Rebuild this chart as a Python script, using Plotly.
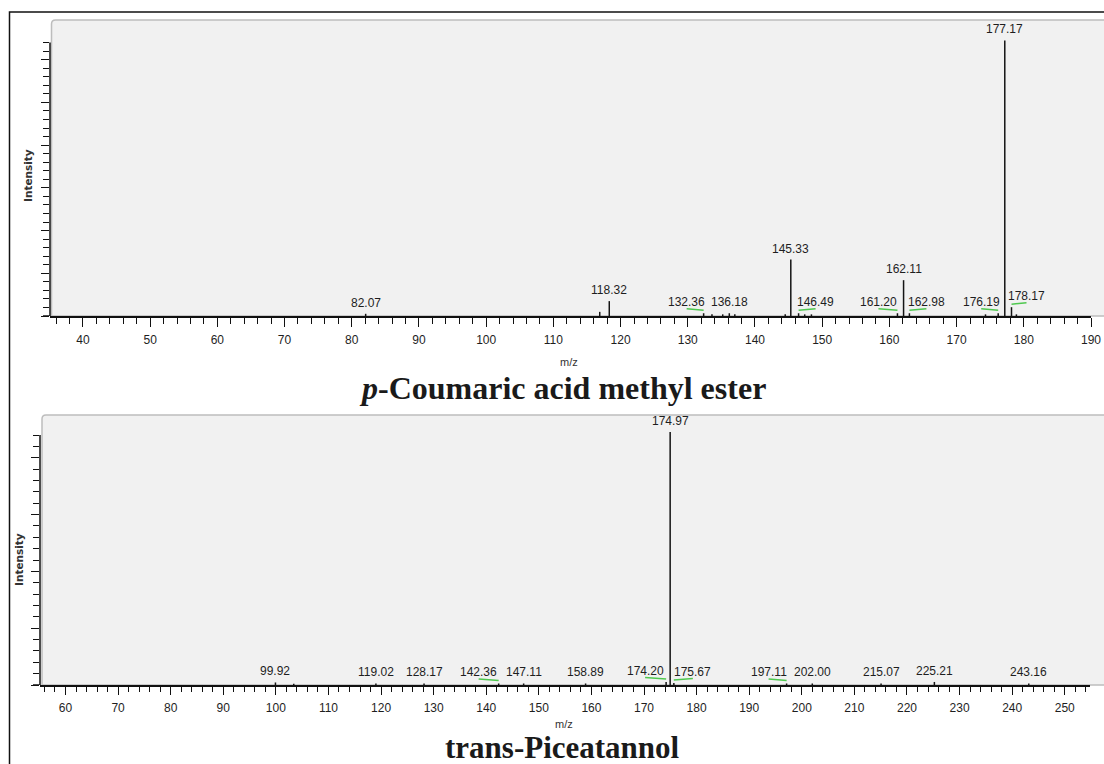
import plotly.graph_objects as go

W, H = 1104, 764

# ---- p-Coumaric acid methyl ester: labelled fragment ions (relative intensity, %)
coum_mz = [82.07, 118.32, 132.36, 136.18, 145.33, 146.49, 161.20, 162.11, 162.98, 176.19, 177.17, 178.17]
coum_int = [0.8, 5.4, 1.0, 1.0, 20.5, 1.0, 1.0, 13.0, 1.0, 1.0, 100.0, 3.2]
# unlabelled minor ions
coum_minor_mz = [116.9, 133.6, 135.2, 137.0, 144.5, 147.4, 148.4, 174.3, 178.9]
coum_minor_int = [1.5, 0.6, 0.6, 0.6, 0.6, 0.6, 0.6, 0.6, 0.6]

# ---- trans-Piceatannol: labelled fragment ions (relative intensity, %)
pic_mz = [99.92, 119.02, 128.17, 142.36, 147.11, 158.89, 174.20, 174.97, 175.67, 197.11, 202.00, 215.07, 225.21, 243.16]
pic_int = [1.0, 0.6, 0.6, 0.6, 0.6, 0.6, 1.2, 100.0, 0.8, 0.6, 0.6, 0.6, 1.2, 0.6]
pic_minor_mz = [103.4]
pic_minor_int = [0.5]

# label displacement (pixels) for crowded peaks; green leader links label to peak
coum_label_dx = [0, 0, -17, 0, 0, 17, -19, 0, 17, -17, 0, 15]
pic_label_dx = [0, 0, 0, -20, 0, 0, -21, 0, 19, -18, 0, 0, 0, 0]

titles = ["<b><i>p</i>-Coumaric acid methyl ester</b>", "<b>trans-Piceatannol</b>"]

# panel geometry in pixels: x-domain, baseline y, top y, x-range, y-range, y tick step, n ticks
panels = [
    dict(x0=50, x1=1091, ybase=316, ytop=20, xr=[35.1, 190.0], yr=[0, 107.4], ystep=3.1, nt=33,
         bg_left=51.5, mzx=569, mzy=362, intx=28, inty=176, titley=388, tsize=32, tlen=9, mlen=6),
    dict(x0=40, x1=1090, ybase=685, ytop=415, xr=[55.15, 254.8], yr=[0, 106.7], ystep=4.49, nt=23,
         bg_left=42, mzx=564, mzy=724, intx=19, inty=560, titley=747, tsize=31, tlen=8, mlen=5),
]

LABEL_FONT = dict(family="Liberation Sans, Arial, sans-serif", size=12, color="#1e1e1e")
GREEN = "#4fc84f"


def px_x(v):
    return v / W


def px_y(v):
    return (H - v) / H


def sticks(mz, inten):
    xs, ys = [], []
    for m, v in zip(mz, inten):
        xs += [m, m, None]
        ys += [0, v, None]
    return xs, ys


fig = go.Figure()
annotations = []
shapes = []

# outer frame
shapes.append(dict(type="rect", xref="paper", yref="paper",
                   x0=px_x(9.5), x1=1.2, y0=-0.2, y1=px_y(12),
                   line=dict(color="#111111", width=1.5), fillcolor="rgba(0,0,0,0)", layer="above"))

data = [
    (coum_mz, coum_int, coum_minor_mz, coum_minor_int, coum_label_dx),
    (pic_mz, pic_int, pic_minor_mz, pic_minor_int, pic_label_dx),
]

for i, (p, (mz, inten, mmz, mint, ldx)) in enumerate(zip(panels, data)):
    xa = "x" if i == 0 else "x2"
    ya = "y" if i == 0 else "y2"
    dom_h = p["ybase"] - p["ytop"]
    ppu_x = (p["x1"] - p["x0"]) / (p["xr"][1] - p["xr"][0])
    upp_y = (p["yr"][1] - p["yr"][0]) / dom_h

    # grey panel with rounded top-left corner
    L, R = px_x(p["bg_left"]), px_x(W + 10)
    T, B = px_y(p["ytop"]), px_y(p["ybase"])
    rx, ry = 4 / W, 4 / H
    path = (f"M {L},{B} L {L},{T - ry} Q {L},{T} {L + rx},{T} "
            f"L {R},{T} L {R},{B} Z")
    shapes.append(dict(type="path", xref="paper", yref="paper", path=path,
                       fillcolor="#f1f1f1", line=dict(color="#bdbdbd", width=1.5), layer="below"))

    # vertical intensity axis line (up to top tick)
    top_tick = p["ystep"] * (p["nt"] - 1)
    shapes.append(dict(type="line", xref="paper", yref=ya,
                       x0=px_x(p["x0"]), x1=px_x(p["x0"]), y0=0, y1=top_tick,
                       line=dict(color="#111111", width=1.5)))
    # baseline extends left under the intensity ticks
    shapes.append(dict(type="line", xref="paper", yref=ya,
                       x0=px_x(p["x0"] - 7), x1=px_x(p["x0"]), y0=0, y1=0,
                       line=dict(color="#111111", width=1.5)))

    # peaks
    xs, ys = sticks(list(mz) + list(mmz), list(inten) + list(mint))
    fig.add_trace(go.Scatter(x=xs, y=ys, mode="lines", xaxis=xa, yaxis=ya,
                             line=dict(color="#141414", width=1.5), hoverinfo="skip",
                             showlegend=False, cliponaxis=False))

    # leaders from displaced labels back to their peaks
    gx, gy = [], []
    for m, v, dx in zip(mz, inten, ldx):
        if dx:
            gx += [m, m + dx / ppu_x, None]
            gy += [v + 3 * upp_y, v + 4.5 * upp_y, None]
    if gx:
        fig.add_trace(go.Scatter(x=gx, y=gy, mode="lines", xaxis=xa, yaxis=ya,
                                 line=dict(color=GREEN, width=1.6), hoverinfo="skip",
                                 showlegend=False, cliponaxis=False))

    # peak labels
    for m, v, dx in zip(mz, inten, ldx):
        annotations.append(dict(x=m, y=v, xref=xa, yref=ya, text=f"{m:.2f}",
                                showarrow=False, xanchor="center", yanchor="bottom",
                                xshift=dx, yshift=2, font=LABEL_FONT))

    # axis titles
    annotations.append(dict(x=px_x(p["mzx"]), y=px_y(p["mzy"]), xref="paper", yref="paper",
                            text="m/z", showarrow=False, xanchor="center", yanchor="middle",
                            font=dict(family="Liberation Sans, Arial, sans-serif", size=11, color="#333333")))
    annotations.append(dict(x=px_x(p["intx"]), y=px_y(p["inty"]), xref="paper", yref="paper",
                            text="Intensity", showarrow=False, textangle=-90,
                            xanchor="center", yanchor="middle",
                            font=dict(family="DejaVu Sans, sans-serif", size=10.5, color="#333333",
                                      weight="bold")))
    # compound name
    annotations.append(dict(x=px_x(562), y=px_y(p["titley"]), xref="paper", yref="paper",
                            text=titles[i], showarrow=False, xanchor="center", yanchor="middle",
                            font=dict(family="Liberation Serif, Times New Roman, serif", size=p["tsize"],
                                      color="#1a1a1a")))

    major = [k * p["ystep"] for k in range(0, p["nt"], 5)]
    minor = [k * p["ystep"] for k in range(p["nt"]) if k % 5]

    xaxis = dict(domain=[px_x(p["x0"]), px_x(p["x1"])], range=p["xr"], anchor=ya,
                 automargin=False,
                 tickmode="linear", tick0=0, dtick=10, ticks="outside", ticklen=p["tlen"],
                 tickwidth=1.3, tickcolor="#111111", showline=True, linecolor="#111111",
                 linewidth=1.5, showgrid=False, zeroline=False, tickfont=LABEL_FONT,
                 ticklabelstandoff=3,
                 minor=dict(ticks="outside", tick0=0, dtick=2, ticklen=p["mlen"],
                            tickwidth=1.3, tickcolor="#111111", showgrid=False))
    yaxis = dict(domain=[px_y(p["ybase"]), px_y(p["ytop"])], range=p["yr"], anchor=xa,
                 automargin=False,
                 tickmode="array", tickvals=major, ticks="outside", ticklen=8, tickwidth=1.3,
                 tickcolor="#111111", showticklabels=False, showline=False, showgrid=False,
                 zeroline=False,
                 minor=dict(tickmode="array", tickvals=minor, ticks="outside", ticklen=6,
                            tickwidth=1.3, tickcolor="#111111", showgrid=False))
    if i == 0:
        fig.update_layout(xaxis=xaxis, yaxis=yaxis)
    else:
        fig.update_layout(xaxis2=xaxis, yaxis2=yaxis)

fig.update_layout(width=W, height=H, autosize=False,
                  margin=dict(l=0, r=0, t=0, b=0, pad=0, autoexpand=False),
                  paper_bgcolor="white", plot_bgcolor="rgba(0,0,0,0)",
                  showlegend=False, annotations=annotations, shapes=shapes)

fig.write_html("out.html", config={"displayModeBar": False, "responsive": False})
